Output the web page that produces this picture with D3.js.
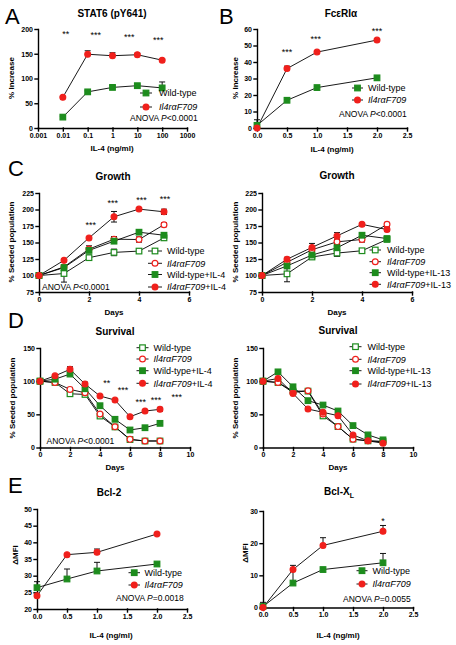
<!DOCTYPE html>
<html><head><meta charset="utf-8">
<script src="https://cdn.jsdelivr.net/npm/d3@7"></script>
<style>body{margin:0;background:#fff}</style>
</head><body>
<script>
// ---------------- DATA ----------------
// Panel A: STAT6 (pY641)
const aDose=[0.01,0.1,1,10,100];
const aWT=[22,73,82,85.5,81];
const aWTErr=[2,2,4,3,12];
const aF709=[62,149,146,148,137];
const aF709Err=[1,7,6,3,2];
const aStarX=[0.013,0.21,4.7,69];
const aStarY=[194,193,188,182];
const aStars=["**","***","***","***"];
const aXTicks=[0.001,0.01,0.1,1,10,100,1000];
const aYTicks=[0,50,100,150,200];
// Panel B: FcεRIα
const bDose=[0,0.5,1,2];
const bWT=[1.6,16.8,24.5,30.4];
const bWTErr=[3.4,0.5,0.5,0.5];
const bF709=[0,36,46,53.3];
const bF709Err=[0.5,1.5,0.5,0.5];
const bStarX=[0.5,0.98,2.0];
const bStarY=[47.6,55.3,60.4];
const bStars=["***","***","***"];
const bXTicks=[0,0.5,1,1.5,2,2.5];
const bYTicks=[0,10,20,30,40,50,60];
// Panel C: Growth
const cDays=[0,1,2,3,4,5];
const cWT=[100,103,127,135,137,157];
const cWTErr=[0,13,4,5,2,3];
const cF709=[100,113,140,155,154.5,177];
const cF709Err=[0,3,5,4,4,3];
const cWTIL4=[100,112,138,152,165.6,161];
const cWTIL4Err=[0,3,3,3,2,2];
const cF709IL4=[100,123,157,189,200.6,196.5];
const cF709IL4Err=[0,2,2,8,2,4];
const cStarX=[2.07,2.95,4.1,5.04];
const cStarY=[181,213,218,220];
const cStars=["***","***","***","***"];
const c2WT=[100,102.5,128,134,137.5,154.6];
const c2WTErr=[0,12,3,5,2,2];
const c2F709=[100,120,139,151,154.6,177.5];
const c2F709Err=[0,5,4,4,4,3];
const c2WTIL13=[100,114.5,131,142,161,156];
const c2WTIL13Err=[0,4,4,4,3,3];
const c2F709IL13=[100,124.6,142.6,160,177.5,169.6];
const c2F709IL13Err=[0,3,6,5,2,3];
const cXTicks=[0,2,4,6];
const cYTicks=[75,100,125,150,175,200,225];
// Panel D: Survival
const dDays=[0,1,2,3,4,5,6,7,8];
const dWT=[100,98,81,80,47.4,31,12,9.8,9.8];
const dWTErr=[0,1,2,2,2,1,1,1,1];
const dF709=[100,98,87.6,82.5,50.4,31.3,12.3,9.8,9.8];
const dF709Err=[0,1,3,2,2,1,1,1,1];
const dWTIL4=[100,103,110.7,88.6,63,42.5,26.4,29.8,36.4];
const dWTIL4Err=[0,1,2,2,2,1,1,1,2];
const dF709IL4=[100,108,117.8,95.6,77.6,71.5,46.4,55,57.5];
const dF709IL4Err=[0,1,4,3,2,1,1,2,3];
const dStarX=[4.45,5.53,6.71,7.73,9.11];
const dStarY=[101.7,90.7,73,75.6,80.6];
const dStars=["**","***","***","***","***"];
const d2WT=[100,98,85,85,47.6,31.5,12.6,10,9];
const d2F709=[100,98,83,85.5,50.6,31.5,12.6,10,9];
const d2WTIL13=[100,114,91.5,70.6,64,55,33,19,11.5];
const d2F709IL13=[100,104,81.5,58,53,48,19,10,6.5];
const d2Err=[0,1,1,1,1,1,1,1,1];
const dXTicks=[0,2,4,6,8,10];
const dYTicks=[0,50,100,150];
// Panel E: Bcl-2 / Bcl-XL
const eDose=[0,0.5,1,2];
const eWT=[26.4,29,31.4,33.5];
const eWTErr=[1.8,3,2.6,0.3];
const eF709=[24,36.3,37,42.5];
const eF709Err=[0.5,0.3,1,0.3];
const e2WT=[0.3,7.6,11.8,13.9];
const e2WTErr=[1.3,4.2,0.4,2.9];
const e2F709=[0,11.8,19.3,23.7];
const e2F709Err=[0.5,1.3,2.4,1.8];
const e2StarX=[2.0];
const e2StarY=[27.6];
const e2Stars=["*"];
const eXTicks=[0,0.5,1,1.5,2,2.5];
const eYTicks=[20,25,30,35,40,45,50];
const e2YTicks=[0,10,20,30];

const legendAB=["Wild-type","Il4rαF709"];
const legendC1=["Wild-type","Il4rαF709","Wild-type+IL-4","Il4rαF709+IL-4"];
const legendC2=["Wild-type","Il4rαF709","Wild-type+IL-13","Il4rαF709+IL-13"];

// ---------------- DRAWING ----------------
const GREEN="#1d8c1d", RED="#f0201c";
const FONT='"Liberation Sans", Arial, Helvetica, sans-serif';
const svg=d3.select("body").append("svg").attr("width",456).attr("height",645)
  .style("font-family",FONT).style("background","#fff");

const WT={shape:"square",color:GREEN,filled:true};
const F7={shape:"circle",color:RED,filled:true};
const WTo={shape:"square",color:GREEN,filled:false};
const F7o={shape:"circle",color:RED,filled:false};

function marker(g,cx,cy,st){
  if(st.shape==="square"){
    g.append("rect").attr("x",cx-2.8).attr("y",cy-2.8).attr("width",5.6).attr("height",5.6)
      .attr("fill",st.filled?st.color:"#fff").attr("stroke",st.color).attr("stroke-width",1.2);
  } else {
    g.append("circle").attr("cx",cx).attr("cy",cy).attr("r",2.9)
      .attr("fill",st.filled?st.color:"#fff").attr("stroke",st.color).attr("stroke-width",1.2);
  }
}
function richLabel(t,label){
  if(label.startsWith("Il4rαF709")){
    t.append("tspan").attr("font-style","italic").text("Il4rαF709");
    const rest=label.slice("Il4rαF709".length);
    if(rest) t.append("tspan").text(rest);
  } else t.text(label);
}

function drawPanel(p){
  const g=svg.append("g");
  const x=(p.log?d3.scaleLog():d3.scaleLinear()).domain(p.xDomain).range(p.xRange);
  const y=d3.scaleLinear().domain(p.yDomain).range(p.yRange);
  const xAxis=d3.axisBottom(x).tickValues(p.xTicks).tickSizeInner(3).tickSizeOuter(0).tickPadding(2)
     .tickFormat(p.xFormat||(d=>String(d)));
  const yAxis=d3.axisLeft(y).tickValues(p.yTicks).tickSizeInner(3).tickSizeOuter(0).tickPadding(2);
  const gx=g.append("g").attr("transform",`translate(0,${p.yRange[0]})`).call(xAxis);
  const gy=g.append("g").attr("transform",`translate(${p.xRange[0]},0)`).call(yAxis);
  [gx,gy].forEach(a=>{
    a.attr("font-family",FONT).attr("font-size",7).attr("font-weight","bold");
    a.selectAll("path,line").attr("stroke","#000").attr("stroke-width",1.4).attr("stroke-linecap","square");
    a.selectAll("text").attr("fill","#000");
  });
  p.series.forEach(s=>{
    const pts=s.x.map((xv,i)=>[x(xv),y(s.y[i])]);
    g.append("path").attr("d",d3.line()(pts)).attr("fill","none").attr("stroke","#000").attr("stroke-width",0.9);
  });
  p.series.forEach(s=>{
    if(!s.err) return;
    s.x.forEach((xv,i)=>{
      const e=s.err[i]; if(!e) return;
      const cx=x(xv), top=y(s.y[i]+e), bot=p.bothErr?y(s.y[i]-e):y(s.y[i]);
      g.append("line").attr("x1",cx).attr("x2",cx).attr("y1",top).attr("y2",bot).attr("stroke","#111").attr("stroke-width",1);
      g.append("line").attr("x1",cx-3).attr("x2",cx+3).attr("y1",top).attr("y2",top).attr("stroke","#111").attr("stroke-width",1);
      if(p.bothErr) g.append("line").attr("x1",cx-3).attr("x2",cx+3).attr("y1",bot).attr("y2",bot).attr("stroke","#111").attr("stroke-width",1);
    });
  });
  p.series.forEach(s=>{
    s.x.forEach((xv,i)=>marker(g,x(xv),y(s.y[i]),s.style));
  });
  if(p.stars){
    p.stars.labels.forEach((lab,i)=>{
      g.append("text").attr("x",x(p.stars.x[i])).attr("y",y(p.stars.y[i])+5.5)
        .attr("text-anchor","middle").attr("font-size",9).text(lab);
    });
  }
  const tt=g.append("text").attr("x",p.title.x).attr("y",p.title.y).attr("text-anchor","middle")
    .attr("font-size",10).attr("font-weight","bold");
  if(p.title.sub){ tt.append("tspan").text(p.title.text); tt.append("tspan").attr("font-size",7).attr("dy",2.5).text(p.title.sub); }
  else tt.text(p.title.text);
  if(p.letter) g.append("text").attr("x",p.letter.x).attr("y",p.letter.y).attr("font-size",22).text(p.letter.text);
  g.append("text").attr("x",p.xLabel.x).attr("y",p.xLabel.y).attr("text-anchor","middle")
    .attr("font-size",8).attr("font-weight","bold").text(p.xLabel.text);
  g.append("text").attr("transform",`translate(${p.yLabel.x},${p.yLabel.y}) rotate(-90)`).attr("text-anchor","middle")
    .attr("font-size",8).attr("font-weight","bold").text(p.yLabel.text);
  p.legend.labels.forEach((lab,i)=>{
    const ly=p.legend.y[i];
    g.append("line").attr("x1",p.legend.x1).attr("x2",p.legend.x2).attr("y1",ly).attr("y2",ly).attr("stroke","#000").attr("stroke-width",0.9);
    marker(g,(p.legend.x1+p.legend.x2)/2,ly,p.series[i].style);
    const t=g.append("text").attr("x",p.legend.tx).attr("y",ly+3.2).attr("font-size",9);
    richLabel(t,lab);
  });
  if(p.anova){
    const t=g.append("text").attr("x",p.anova.x).attr("y",p.anova.y).attr("font-size",8.5);
    t.append("tspan").text("ANOVA ");
    t.append("tspan").attr("font-style","italic").text("P");
    t.append("tspan").text(p.anova.text);
  }
}

// Panel A
drawPanel({log:true,xDomain:[0.001,1000],xRange:[38,187],yDomain:[0,200],yRange:[128,29],
  xTicks:aXTicks,yTicks:aYTicks,
  series:[{x:aDose,y:aWT,err:aWTErr,style:WT},{x:aDose,y:aF709,err:aF709Err,style:F7}],
  stars:{x:aStarX,y:aStarY,labels:aStars},
  title:{text:"STAT6 (pY641)",x:112,y:16.5},letter:{text:"A",x:5,y:24},
  xLabel:{text:"IL-4 (ng/ml)",x:112,y:151},yLabel:{text:"% Increase",x:14,y:78},
  legend:{labels:legendAB,y:[93,107],x1:140,x2:152,tx:159},
  anova:{x:130,y:120.5,text:"<0.0001"}});
// Panel B
drawPanel({xDomain:[0,2.5],xRange:[257,407],yDomain:[0,60],yRange:[128,29],
  xTicks:bXTicks,yTicks:bYTicks,xFormat:d3.format(".1f"),
  series:[{x:bDose,y:bWT,err:bWTErr,style:WT},{x:bDose,y:bF709,err:bF709Err,style:F7}],
  stars:{x:bStarX,y:bStarY,labels:bStars},
  title:{text:"FcεRIα",x:341,y:16.5},letter:{text:"B",x:219,y:24},
  xLabel:{text:"IL-4 (ng/ml)",x:332,y:151.5},yLabel:{text:"% Increase",x:238,y:78},
  legend:{labels:legendAB,y:[88,100],x1:352,x2:363,tx:368},
  anova:{x:339,y:117,text:"<0.0001"}});
// Panel C left
drawPanel({xDomain:[0,6],xRange:[39,189],yDomain:[75,225],yRange:[292,193],bothErr:true,
  xTicks:cXTicks,yTicks:cYTicks,
  series:[{x:cDays,y:cWT,err:cWTErr,style:WTo},{x:cDays,y:cF709,err:cF709Err,style:F7o},
          {x:cDays,y:cWTIL4,err:cWTIL4Err,style:WT},{x:cDays,y:cF709IL4,err:cF709IL4Err,style:F7}],
  stars:{x:cStarX,y:cStarY,labels:cStars},
  title:{text:"Growth",x:113,y:180},letter:{text:"C",x:8,y:176},
  xLabel:{text:"Days",x:114,y:315},yLabel:{text:"% Seeded population",x:14,y:242},
  legend:{labels:legendC1,y:[251,263.3,274.5,287],x1:148,x2:162,tx:167},
  anova:{x:42,y:289.5,text:"<0.0001"}});
// Panel C right
drawPanel({xDomain:[0,6],xRange:[262,412],yDomain:[75,225],yRange:[292,193],bothErr:true,
  xTicks:cXTicks,yTicks:cYTicks,
  series:[{x:cDays,y:c2WT,err:c2WTErr,style:WTo},{x:cDays,y:c2F709,err:c2F709Err,style:F7o},
          {x:cDays,y:c2WTIL13,err:c2WTIL13Err,style:WT},{x:cDays,y:c2F709IL13,err:c2F709IL13Err,style:F7}],
  title:{text:"Growth",x:337,y:179},
  xLabel:{text:"Days",x:337,y:315},yLabel:{text:"% Seeded population",x:238,y:242},
  legend:{labels:legendC2,y:[250,261.7,272.7,284.3],x1:369.5,x2:381,tx:387}});
// Panel D left
drawPanel({xDomain:[0,10],xRange:[40,190],yDomain:[0,150],yRange:[447.5,348],bothErr:true,
  xTicks:dXTicks,yTicks:dYTicks,
  series:[{x:dDays,y:dWT,err:dWTErr,style:WTo},{x:dDays,y:dF709,err:dF709Err,style:F7o},
          {x:dDays,y:dWTIL4,err:dWTIL4Err,style:WT},{x:dDays,y:dF709IL4,err:dF709IL4Err,style:F7}],
  stars:{x:dStarX,y:dStarY,labels:dStars},
  title:{text:"Survival",x:115,y:335},letter:{text:"D",x:8,y:328},
  xLabel:{text:"Days",x:115,y:470},yLabel:{text:"% Seeded population",x:15,y:398},
  legend:{labels:legendC1,y:[347.7,359,370.7,383.3],x1:136.5,x2:148.5,tx:153.5},
  anova:{x:46.5,y:443.5,text:"<0.0001"}});
// Panel D right
drawPanel({xDomain:[0,10],xRange:[263,413],yDomain:[0,150],yRange:[447.5,348],bothErr:true,
  xTicks:dXTicks,yTicks:dYTicks,
  series:[{x:dDays,y:d2WT,err:d2Err,style:WTo},{x:dDays,y:d2F709,err:d2Err,style:F7o},
          {x:dDays,y:d2WTIL13,err:d2Err,style:WT},{x:dDays,y:d2F709IL13,err:d2Err,style:F7}],
  title:{text:"Survival",x:338,y:334},
  xLabel:{text:"Days",x:338,y:470},yLabel:{text:"% Seeded population",x:238,y:398},
  legend:{labels:legendC2,y:[346.7,359.3,370.7,384],x1:349.5,x2:361.5,tx:367.5}});
// Panel E left
drawPanel({xDomain:[0,2.5],xRange:[37,187],yDomain:[20,50],yRange:[609,509],
  xTicks:eXTicks,yTicks:eYTicks,xFormat:d3.format(".1f"),
  series:[{x:eDose,y:eWT,err:eWTErr,style:WT},{x:eDose,y:eF709,err:eF709Err,style:F7}],
  title:{text:"Bcl-2",x:109,y:495.5},letter:{text:"E",x:8,y:493},
  xLabel:{text:"IL-4 (ng/ml)",x:111,y:638},yLabel:{text:"ΔMFI",x:18,y:555},
  legend:{labels:legendAB,y:[572.7,585],x1:128.5,x2:140,tx:144.5},
  anova:{x:116,y:600.5,text:"=0.0018"}});
// Panel E right
drawPanel({xDomain:[0,2.5],xRange:[263,413],yDomain:[0,30],yRange:[607.5,511],
  xTicks:eXTicks,yTicks:e2YTicks,xFormat:d3.format(".1f"),
  series:[{x:eDose,y:e2WT,err:e2WTErr,style:WT},{x:eDose,y:e2F709,err:e2F709Err,style:F7}],
  stars:{x:e2StarX,y:e2StarY,labels:e2Stars},
  title:{text:"Bcl-X",sub:"L",x:339,y:495},
  xLabel:{text:"IL-4 (ng/ml)",x:338,y:638},yLabel:{text:"ΔMFI",x:248,y:553},
  legend:{labels:legendAB,y:[570.7,584],x1:356.5,x2:367.5,tx:372.5},
  anova:{x:343,y:602,text:"=0.0055"}});
</script>
</body></html>
